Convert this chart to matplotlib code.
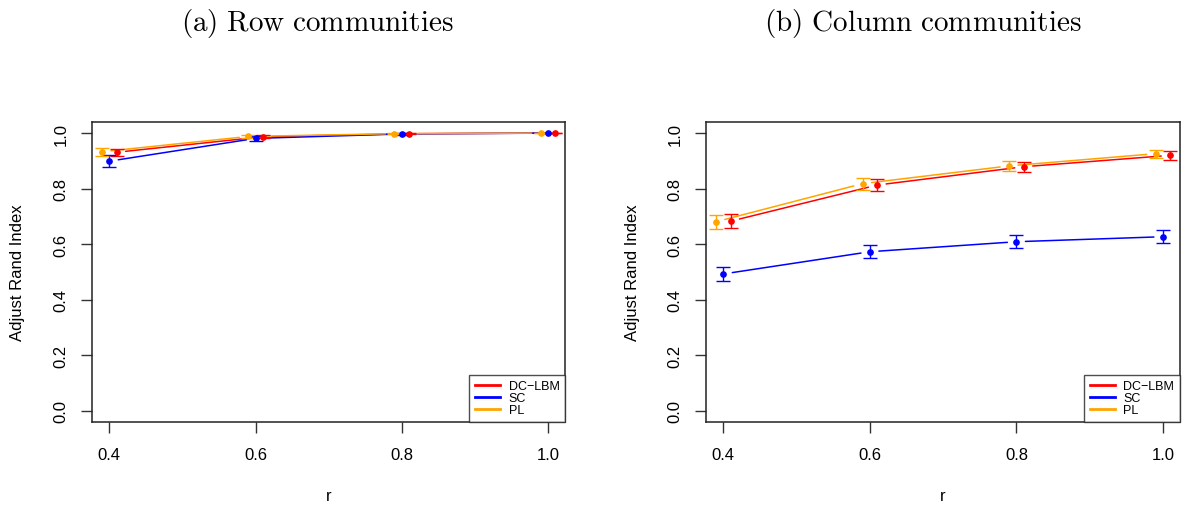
import matplotlib
matplotlib.use("Agg")
import matplotlib.pyplot as plt
import numpy as np

plt.rcParams['mathtext.fontset'] = 'cm'
plt.rcParams['font.family'] = ['Liberation Sans', 'DejaVu Sans']

r = [0.4, 0.6, 0.8, 1.0]
methods = ["DC\u2212LBM", "SC", "PL"]
colors = ["#FF0000", "#0000FF", "#FFA500"]
offsets = [0.01, 0.0, -0.01]

# Row communities
row_mean = {
    "DC\u2212LBM": [0.931, 0.987, 0.998, 1.000],
    "SC":          [0.899, 0.981, 0.997, 1.000],
    "PL":          [0.933, 0.988, 0.998, 1.000],
}
row_err = {
    "DC\u2212LBM": [0.012, 0.006, 0.002, 0.001],
    "SC":          [0.022, 0.008, 0.002, 0.001],
    "PL":          [0.014, 0.006, 0.002, 0.001],
}
# Column communities
col_mean = {
    "DC\u2212LBM": [0.683, 0.813, 0.879, 0.920],
    "SC":          [0.493, 0.573, 0.609, 0.627],
    "PL":          [0.681, 0.818, 0.882, 0.926],
}
col_err = {
    "DC\u2212LBM": [0.026, 0.022, 0.018, 0.015],
    "SC":          [0.025, 0.024, 0.023, 0.023],
    "PL":          [0.026, 0.022, 0.018, 0.014],
}

titles = [r'$\mathrm{(a)\ Row\ communities}$', r'$\mathrm{(b)\ Column\ communities}$']
yticks = [0.0, 0.2, 0.4, 0.6, 0.8, 1.0]

W, H = 1184, 510
fig = plt.figure(figsize=(W / 100, H / 100), dpi=100)

axes_px = [(92, 123, 473, 300), (706, 123, 474, 300)]
data = [(row_mean, row_err), (col_mean, col_err)]
title_cx = [317, 923]

for k, ((x0, y0, w, h), (means, errs)) in enumerate(zip(axes_px, data)):
    ax = fig.add_axes([x0 / W, 1 - (y0 + h) / H, w / W, h / H])
    for m, c, off in zip(methods, colors, offsets):
        xs = np.array(r) + off
        ys = np.array(means[m])
        es = np.array(errs[m])
        ax.errorbar(xs, ys, yerr=es, fmt='o', color=c, ms=3.8, capsize=5,
                    elinewidth=1, capthick=1, zorder=3)
        for i in range(len(xs) - 1):
            ax.annotate('', xy=(xs[i + 1], ys[i + 1]), xytext=(xs[i], ys[i]),
                        arrowprops=dict(arrowstyle='-', color=c, lw=1.1,
                                        shrinkA=6.5, shrinkB=6.5), zorder=2)
    ax.set_xlim(0.3763, 1.0233)
    ax.set_ylim(-0.04, 1.04)
    ax.set_xticks(r)
    ax.set_xticklabels([f"{v:.1f}" for v in r], fontsize=12)
    ax.set_yticks(yticks)
    ax.set_yticklabels([f"{v:.1f}" for v in yticks], fontsize=12, rotation=90, va='center')
    ax.tick_params(axis='both', length=8, width=1, color='#333333')
    ax.tick_params(axis='y', pad=9)
    ax.tick_params(axis='x', pad=10)
    for s in ax.spines.values():
        s.set_linewidth(1.1)
        s.set_color('#222222')
    handles = [plt.Line2D([], [], color=c, lw=2) for c in colors]
    leg = ax.legend(handles, methods, loc='lower right', borderaxespad=0,
                    fontsize=9, frameon=True, fancybox=False, handlelength=2.0,
                    labelspacing=0.0, handletextpad=0.7, borderpad=0.45)
    leg.get_frame().set_edgecolor('#222222')
    leg.get_frame().set_linewidth(1.0)
    # axis labels
    fig.text((x0 + w / 2) / W, 1 - 497 / H, 'r', ha='center', va='center', fontsize=12)
    fig.text((x0 - 74) / W, 1 - (y0 + h / 2) / H, 'Adjust Rand Index', ha='center',
             va='center', rotation=90, fontsize=12)
    fig.text(title_cx[k] / W, 1 - 23 / H, titles[k], ha='center', va='center', fontsize=21)

fig.savefig('out.png', dpi=100)
